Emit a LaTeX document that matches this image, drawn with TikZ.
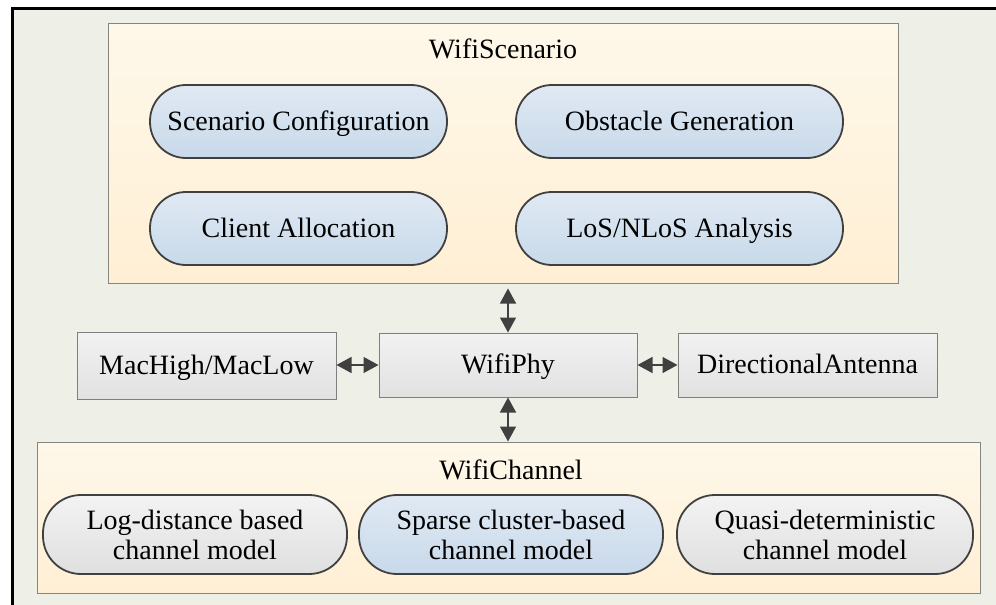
\documentclass[tikz,border=0pt]{standalone}
\usepackage{fontspec}
\setmainfont{Liberation Serif}
\usetikzlibrary{arrows.meta}

\definecolor{pagebg}{HTML}{EEF0E8}
\definecolor{frameline}{HTML}{000000}
\definecolor{boxline}{HTML}{86867E}
\definecolor{ctop}{HTML}{FEF8EA}
\definecolor{cbot}{HTML}{FFEFD4}
\definecolor{pillline}{HTML}{404040}
\definecolor{btop}{HTML}{E0E9F3}
\definecolor{bbot}{HTML}{C8D9EA}
\definecolor{gtop}{HTML}{F3F3F3}
\definecolor{gbot}{HTML}{DFDFDF}
\definecolor{rtop}{HTML}{F2F2F2}
\definecolor{rbot}{HTML}{E1E1E1}
\definecolor{rline}{HTML}{7E7E7E}
\definecolor{arrowc}{HTML}{404040}

\tikzset{
  txt/.style={font=\fontsize{28}{30}\selectfont, text=black},
  oneline/.style={text height=19pt, text depth=2pt},
  container/.style={draw=boxline, line width=1pt, top color=ctop, bottom color=cbot, inner sep=0pt},
  bluepill/.style={txt, draw=pillline, line width=1.8pt, top color=btop, bottom color=bbot,
    rounded corners=36pt, inner sep=0pt, align=center},
  graypill/.style={txt, draw=pillline, line width=1.8pt, top color=gtop, bottom color=gbot,
    rounded corners=38pt, inner sep=0pt, align=center},
  module/.style={txt, oneline, draw=rline, line width=1pt, top color=rtop, bottom color=rbot, inner sep=0pt},
  link/.style={draw=arrowc, line width=1.4pt,
    {Triangle[length=15pt,width=16pt]}-{Triangle[length=15pt,width=16pt]}},
}

\begin{document}
\begin{tikzpicture}[x=1pt, y=-1pt]
  \useasboundingbox (0,0) rectangle (996,605);
  \begin{scope}
    \clip (0,0) rectangle (996,605);
    % page background with its black top and left rules
    \fill[pagebg] (12.5,8.5) rectangle (1005,615);
    \draw[frameline, line width=3pt] (12.5,615) -- (12.5,8.5) -- (1005,8.5);
  \end{scope}

  % WifiScenario container
  \node[container, minimum width=790pt, minimum height=260pt] (scen) at (503,153) {};
  \node[txt, oneline] (scentitle) at (503,50) {WifiScenario};
  \node[bluepill, oneline, minimum width=297pt, minimum height=73pt] (conf) at (298.5,121.5) {Scenario Configuration};
  \node[bluepill, oneline, minimum width=327pt, minimum height=73pt] (obst) at (679.5,121.5) {Obstacle Generation};
  \node[bluepill, oneline, minimum width=297pt, minimum height=73pt] (alloc) at (298.5,228.5) {Client Allocation};
  \node[bluepill, oneline, minimum width=327pt, minimum height=73pt] (los) at (679.5,228.5) {LoS/NLoS Analysis};

  % middle row of modules
  \node[module, minimum width=259pt, minimum height=67pt] (mac) at (206.5,365.5) {MacHigh/MacLow};
  \node[module, minimum width=258pt, minimum height=64pt] (phy) at (508,365) {WifiPhy};
  \node[module, minimum width=259pt, minimum height=64pt] (ant) at (807.5,365) {DirectionalAntenna};

  % WifiChannel container
  \node[container, minimum width=943pt, minimum height=151pt] (chan) at (508.5,517.5) {};
  \node[txt, oneline] (chantitle) at (511,471) {WifiChannel};
  \node[graypill, minimum width=304pt, minimum height=79pt] (logd) at (195,534.5) {Log-distance based\\channel model};
  \node[bluepill, rounded corners=38pt, minimum width=304pt, minimum height=79pt] (sparse) at (511,534.5) {Sparse cluster-based\\channel model};
  \node[graypill, minimum width=296pt, minimum height=79pt] (quasi) at (825,534.5) {Quasi-deterministic\\channel model};

  % connectors
  \draw[link, shorten >=5pt] (phy.north) -- (scen.south -| phy.north);
  \draw[link] (phy.south) -- (chan.north -| phy.south);
  \draw[link] (mac.east |- phy.west) -- (phy.west);
  \draw[link] (phy.east) -- (ant.west |- phy.east);
\end{tikzpicture}
\end{document}
